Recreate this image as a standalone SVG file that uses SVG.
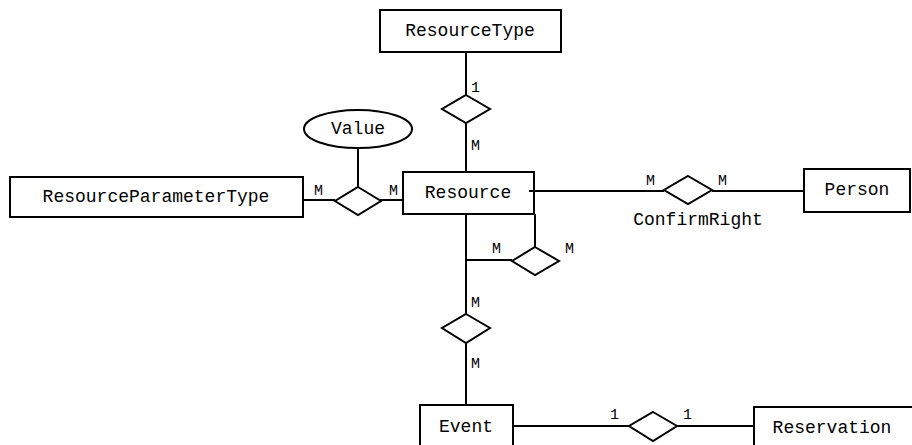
<svg xmlns="http://www.w3.org/2000/svg" width="912" height="445" viewBox="0 0 912 445">
  <style>
    .box { fill: #fff; stroke: #000; stroke-width: 2; }
    .rel { fill: #fff; stroke: #000; stroke-width: 2; }
    .ln { fill: none; stroke: #000; stroke-width: 2; }
    .name { font-family: "Liberation Mono", "Courier New", monospace; font-size: 18px; text-anchor: middle; dominant-baseline: central; fill: #000; }
    .card { font-family: "Liberation Mono", "Courier New", monospace; font-size: 15px; fill: #000; }
  </style>
  <rect width="912" height="445" fill="#fff"/>

  <!-- connectors -->
  <g id="connectors">
    <line class="ln" x1="466" y1="52" x2="466" y2="95"/>
    <line class="ln" x1="466" y1="123" x2="466" y2="172"/>
    <line class="ln" x1="303" y1="200" x2="335" y2="200"/>
    <line class="ln" x1="380" y1="200" x2="403" y2="200"/>
    <line class="ln" x1="358" y1="148" x2="358" y2="187"/>
    <line class="ln" x1="529" y1="191" x2="664" y2="191"/>
    <line class="ln" x1="712" y1="191" x2="804" y2="191"/>
    <line class="ln" x1="466" y1="214" x2="466" y2="314"/>
    <line class="ln" x1="466" y1="260" x2="512" y2="260"/>
    <line class="ln" x1="535" y1="214" x2="535" y2="247"/>
    <line class="ln" x1="466" y1="343" x2="466" y2="405"/>
    <line class="ln" x1="513" y1="426" x2="629" y2="426"/>
    <line class="ln" x1="677" y1="426" x2="754" y2="426"/>
  </g>

  <!-- entities -->
  <g id="ResourceType">
    <rect class="box" x="380" y="10" width="181" height="42"/>
    <text class="name" x="470" y="31">ResourceType</text>
  </g>
  <g id="Resource">
    <rect class="box" x="403" y="172" width="131" height="42"/>
    <text class="name" x="468" y="193">Resource</text>
    <line class="ln" x1="529" y1="191" x2="534" y2="191"/>
  </g>
  <g id="ResourceParameterType">
    <rect class="box" x="10" y="177" width="293" height="40"/>
    <text class="name" x="156" y="197">ResourceParameterType</text>
  </g>
  <g id="Person">
    <rect class="box" x="804" y="169" width="106" height="43"/>
    <text class="name" x="857" y="190">Person</text>
  </g>
  <g id="Event">
    <rect class="box" x="420" y="405" width="93" height="50"/>
    <text class="name" x="466" y="427">Event</text>
  </g>
  <g id="Reservation">
    <rect class="box" x="754" y="407" width="160" height="50"/>
    <text class="name" x="832" y="428">Reservation</text>
  </g>

  <!-- attribute -->
  <g id="Value">
    <ellipse class="box" cx="358" cy="129" rx="54" ry="19"/>
    <text class="name" x="358" y="129">Value</text>
  </g>

  <!-- relationships -->
  <g id="rel-type">
    <polygon class="rel" points="466,95 490,109 466,123 442,109"/>
    <text class="card" x="471" y="92">1</text>
    <text class="card" x="471" y="150">M</text>
  </g>
  <g id="rel-parameter">
    <polygon class="rel" points="358,187 381,201 358,215 335,201"/>
    <text class="card" x="314" y="195">M</text>
    <text class="card" x="389" y="195">M</text>
  </g>
  <g id="ConfirmRight">
    <polygon class="rel" points="688,176 712,190 688,204 664,190"/>
    <text class="card" x="646" y="185">M</text>
    <text class="card" x="718" y="185">M</text>
    <text class="name" x="698" y="220">ConfirmRight</text>
  </g>
  <g id="rel-self">
    <polygon class="rel" points="535,247 559,261 535,275 512,261"/>
    <text class="card" x="492" y="253">M</text>
    <text class="card" x="565" y="253">M</text>
  </g>
  <g id="rel-event">
    <polygon class="rel" points="466,314 490,328 466,343 442,328"/>
    <text class="card" x="471" y="307">M</text>
    <text class="card" x="471" y="368">M</text>
  </g>
  <g id="rel-reservation">
    <polygon class="rel" points="653,412 677,426 653,441 629,426"/>
    <text class="card" x="610" y="419">1</text>
    <text class="card" x="683" y="419">1</text>
  </g>
</svg>
